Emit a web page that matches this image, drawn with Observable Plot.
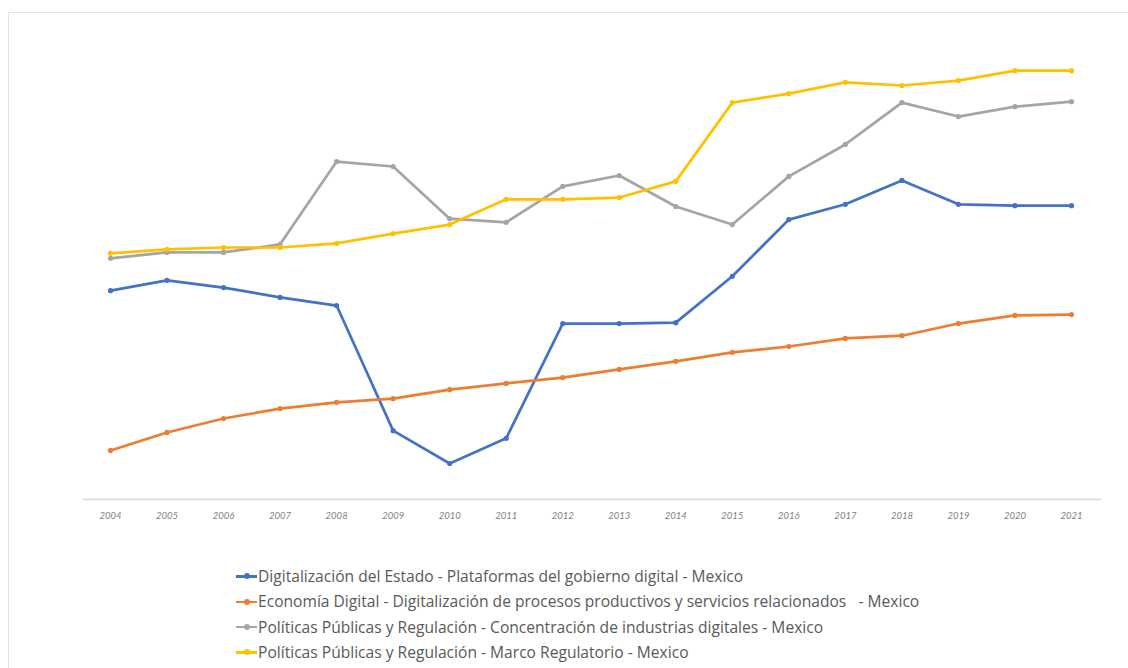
<!DOCTYPE html>
<html>
<head>
<meta charset="utf-8">
<script src="https://cdn.jsdelivr.net/npm/d3@7"></script>
<script src="https://cdn.jsdelivr.net/npm/@observablehq/plot@0.6"></script>
<style>
  html, body { margin: 0; padding: 0; background: #fff; }
  body { width: 1128px; height: 668px; position: relative; overflow: hidden; font-family: "Open Sans", Lato, sans-serif; }
  #frame { position: absolute; left: 8px; top: 12px; right: 0; bottom: 0; border-left: 1.5px solid #e2e2e2; border-top: 1.5px solid #e2e2e2; }
  #chart { position: absolute; left: 0; top: 0; }
  #legend { position: absolute; left: 236px; top: 564px; font-size: 15.6px; color: #595959; line-height: 25.3px; white-space: pre; }
  .row { display: flex; align-items: center; }
  .sw { position: relative; width: 21px; height: 2.5px; margin-right: 1px; }
  .sw i { position: absolute; left: 8px; top: -2px; width: 6px; height: 6px; border-radius: 50%; }
</style>
</head>
<body>
<div id="frame"></div>
<div id="chart"></div>
<div id="legend"></div>
<script>
const years = [2004,2005,2006,2007,2008,2009,2010,2011,2012,2013,2014,2015,2016,2017,2018,2019,2020,2021];
const seriesNames = [
  "Digitalización del Estado - Plataformas del gobierno digital - Mexico",
  "Economía Digital - Digitalización de procesos productivos y servicios relacionados   - Mexico",
  "Políticas Públicas y Regulación - Concentración de industrias digitales - Mexico",
  "Políticas Públicas y Regulación - Marco Regulatorio - Mexico"
];
const estado     = [46.4,48.7,47.1,44.9,43.1,15.3,8.0,13.6,39.1,39.1,39.3,49.6,62.2,65.6,70.9,65.6,65.3,65.3];
const economia   = [10.9,14.9,18.0,20.2,21.6,22.4,24.4,25.8,27.1,28.9,30.7,32.7,34.0,35.8,36.4,39.1,40.9,41.1];
const concentra  = [53.6,54.9,54.9,56.7,75.1,74.0,62.4,61.6,69.6,72.0,65.1,61.1,71.8,78.9,88.2,85.1,87.3,88.4];
const marco      = [54.7,55.6,56.0,56.0,56.9,59.1,61.1,66.7,66.7,67.1,70.7,88.2,90.2,92.7,92.0,93.1,95.3,95.3];
const colors = ["#4472C4", "#ED7D31", "#A5A5A5", "#FFC000"];

const seriesValues = [estado, economia, concentra, marco];
const data = [];
seriesValues.forEach((vals, i) => {
  vals.forEach((v, j) => data.push({year: years[j], value: v, series: seriesNames[i]}));
});

const chart = Plot.plot({
  width: 1128,
  height: 540,
  marginTop: 49,
  marginBottom: 41,
  marginLeft: 83,
  marginRight: 28,
  style: {background: "transparent", fontFamily: "Lato, 'Open Sans', sans-serif"},
  x: {
    type: "linear",
    domain: [2004, 2021],
    insetLeft: 27,
    insetRight: 29,
    ticks: years,
    tickFormat: d => String(d),
    tickSize: 0,
    tickPadding: 13,
    label: null
  },
  y: {domain: [0, 100], axis: null},
  color: {domain: seriesNames, range: colors},
  marks: [
    Plot.frame({anchor: "bottom", stroke: "#d9d9d9", strokeWidth: 1.5, strokeOpacity: 1}),
    Plot.line(data, {x: "year", y: "value", stroke: "series", strokeWidth: 2.7, z: "series"}),
    Plot.dot(data, {x: "year", y: "value", fill: "series", r: 2.6, stroke: null})
  ]
});
const xl = chart.querySelector('g[aria-label="x-axis tick label"]');
if (xl) { xl.setAttribute("font-size", "9.5"); xl.setAttribute("fill", "#7f7f7f"); xl.setAttribute("font-style", "italic"); }
chart.querySelectorAll('g[aria-label="x-axis tick label"] text').forEach(t => {
  t.setAttribute("font-style", "italic");
  t.setAttribute("fill", "#7f7f7f");
  t.setAttribute("font-size", "9.5");
});
document.getElementById("chart").appendChild(chart);

const legend = document.getElementById("legend");
seriesNames.forEach((name, i) => {
  const row = document.createElement("div");
  row.className = "row";
  row.innerHTML = `<span class="sw" style="background:${colors[i]}"><i style="background:${colors[i]}"></i></span><span>${name}</span>`;
  legend.appendChild(row);
});
</script>
</body>
</html>
